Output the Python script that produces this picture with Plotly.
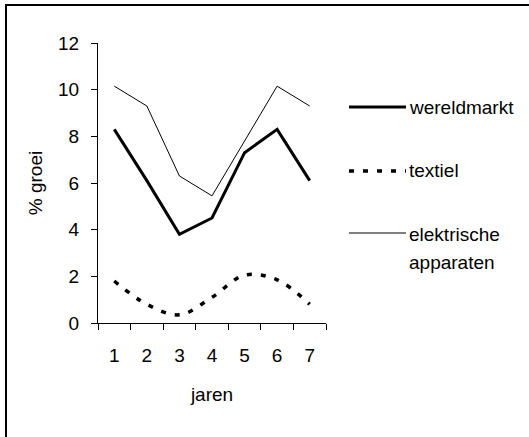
import plotly.graph_objects as go

jaren = ["1", "2", "3", "4", "5", "6", "7"]
wereldmarkt = [8.3, 6.1, 3.8, 4.5, 7.3, 8.3, 6.1]
textiel = [1.8, 0.8, 0.35, 1.1, 2.05, 1.85, 0.8]
elektrische = [10.15, 9.3, 6.3, 5.45, 7.8, 10.15, 9.3]

W, H = 529, 437
L, R, T, B = 98, 203, 43, 114
PW, PH = W - L - R, H - T - B
FONT = "Liberation Sans, Arial, sans-serif"


def px(x):
    return (x - L) / PW


def py(y):
    return (H - B - y) / PH


fig = go.Figure()
fig.add_trace(go.Scatter(x=jaren, y=elektrische, mode="lines",
                         line=dict(color="black", width=1), name="elektrische apparaten"))
fig.add_trace(go.Scatter(x=jaren, y=wereldmarkt, mode="lines",
                         line=dict(color="black", width=3), name="wereldmarkt"))
fig.add_trace(go.Scatter(x=jaren, y=textiel, mode="lines",
                         line=dict(color="black", width=3.5, dash="5px,9px", shape="spline", smoothing=1),
                         name="textiel"))

shapes = [
    # frame: top and left edges only (the picture is cropped on the right and bottom)
    dict(type="line", xref="paper", yref="paper", x0=px(5), x1=px(529), y0=py(5), y1=py(5),
         line=dict(color="black", width=2), layer="below"),
    dict(type="line", xref="paper", yref="paper", x0=px(6), x1=px(6), y0=py(4), y1=py(437),
         line=dict(color="black", width=2), layer="below"),
    # legend keys
    dict(type="line", xref="paper", yref="paper", x0=px(349), x1=px(406), y0=py(107), y1=py(107),
         line=dict(color="black", width=3)),
    dict(type="line", xref="paper", yref="paper", x0=px(349), x1=px(406), y0=py(171), y1=py(171),
         line=dict(color="black", width=3.5, dash="5px,9px")),
    dict(type="line", xref="paper", yref="paper", x0=px(349), x1=px(406), y0=py(233), y1=py(233),
         line=dict(color="black", width=1)),
]

labels = [("wereldmarkt", 107), ("textiel", 170), ("elektrische", 234), ("apparaten", 262)]
annotations = [
    dict(text=t, xref="paper", yref="paper", x=px(407), y=py(yy), xanchor="left", yanchor="middle",
         showarrow=False, font=dict(family=FONT, size=19, color="black"))
    for t, yy in labels
]

fig.update_layout(
    width=W, height=H,
    margin=dict(l=L, r=R, t=T, b=B, autoexpand=False),
    paper_bgcolor="white", plot_bgcolor="white",
    showlegend=False,
    font=dict(family=FONT, size=19, color="black"),
    shapes=shapes, annotations=annotations,
    xaxis=dict(type="category", range=[-0.5, 6.5], showline=True, linecolor="black", linewidth=1,
               ticks="outside", ticklen=6, tickcolor="black", tickson="boundaries",
               ticklabelstandoff=15, showgrid=False, zeroline=False,
               title=dict(text="jaren", standoff=22, font=dict(size=19))),
    yaxis=dict(range=[0, 12], dtick=2, showline=True, linecolor="black", linewidth=1,
               ticks="outside", ticklen=6, tickcolor="black", ticklabelstandoff=8,
               showgrid=False, zeroline=False,
               title=dict(text="% groei", standoff=10, font=dict(size=19))),
)

fig.write_html("out.html", config={"displayModeBar": False},
               post_script="document.body.style.margin='0';")
